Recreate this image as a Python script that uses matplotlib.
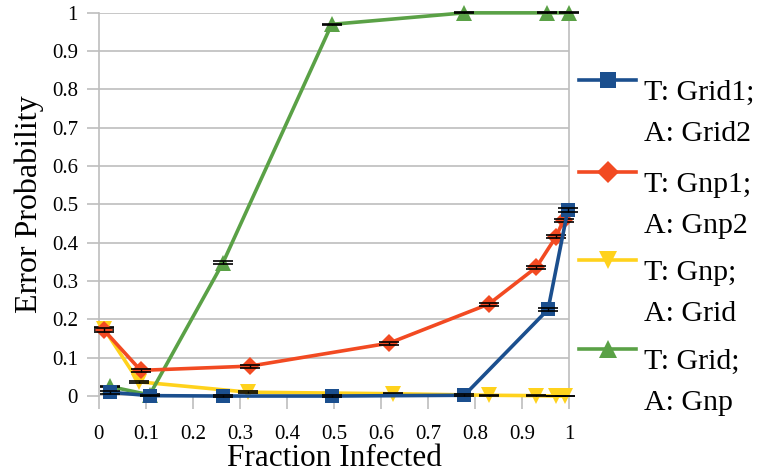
import matplotlib
matplotlib.use("Agg")
import matplotlib.pyplot as plt
from matplotlib.lines import Line2D
import numpy as np

# Series: T = training topology, A = attacked topology
x_grid1 = [0.023, 0.108, 0.264, 0.496, 0.777, 0.955, 0.997]
y_grid1 = [0.010, 0.001, 0.000, 0.000, 0.002, 0.226, 0.486]
e_grid1 = [0.004, 0.002, 0.002, 0.002, 0.002, 0.005, 0.005]

x_gnp1 = [0.011, 0.089, 0.321, 0.617, 0.829, 0.930, 0.972, 0.988]
y_gnp1 = [0.172, 0.067, 0.078, 0.138, 0.240, 0.336, 0.416, 0.459]
e_gnp1 = [0.005, 0.004, 0.004, 0.004, 0.004, 0.004, 0.004, 0.004]

x_gnp = [0.011, 0.085, 0.318, 0.626, 0.829, 0.930, 0.972, 0.990]
y_gnp = [0.176, 0.037, 0.010, 0.006, 0.002, 0.001, 0.000, 0.000]
e_gnp = [0.004, 0.003, 0.002, 0.001, 0.001, 0.001, 0.001, 0.001]

x_grid = [0.023, 0.108, 0.264, 0.495, 0.777, 0.953, 1.000]
y_grid = [0.025, 0.003, 0.348, 0.970, 1.000, 1.000, 1.000]
e_grid = [0.002, 0.002, 0.004, 0.002, 0.001, 0.001, 0.001]

label_top = ["T: Grid1;", "T: Gnp1;", "T: Gnp;", "T: Grid;"]
label_bottom = ["A: Grid2", "A: Gnp2", "A: Grid", "A: Gnp"]
colors = ["#1B4F8E", "#F24A22", "#FFD21C", "#5AA146"]
markers = ["s", "D", "v", "^"]
msizes = [9.5, 9, 11, 11]
zorders = [6, 5, 3, 4]

x_ticks = np.round(np.arange(0, 1.01, 0.1), 1)
y_ticks = np.round(np.arange(0, 1.01, 0.1), 1)

plt.rcParams["font.family"] = ["Liberation Serif", "DejaVu Serif"]

fig = plt.figure(figsize=(7.6, 4.76), dpi=100)
ax = fig.add_axes([0.130, 0.168, 0.619, 0.805])

series = [(x_grid1, y_grid1, e_grid1), (x_gnp1, y_gnp1, e_gnp1),
          (x_gnp, y_gnp, e_gnp), (x_grid, y_grid, e_grid)]

for (xs, ys, es), c, m, ms, z in zip(series, colors, markers, msizes, zorders):
    ax.plot(xs, ys, color=c, lw=2.6, marker=m, markersize=ms,
            markeredgewidth=0, zorder=z, clip_on=False)
    ax.errorbar(xs, ys, yerr=es, fmt="none", ecolor="black", elinewidth=1.0,
                capsize=7, capthick=1.2, zorder=z + 0.5, clip_on=False)

ax.set_xlim(0, 1)
ax.set_ylim(0, 1)
ax.set_xticks(x_ticks)
ax.set_xticklabels([f"{v:g}" for v in x_ticks])
ax.set_yticks(y_ticks)
ax.set_yticklabels([f"{v:g}" for v in y_ticks])

ax.grid(axis="y", color="#BEBEBE", lw=1.2, zorder=0)
ax.set_axisbelow(True)
for side in ["top", "bottom"]:
    ax.spines[side].set_visible(False)
for side in ["left", "right"]:
    ax.spines[side].set_color("#BEBEBE")
    ax.spines[side].set_linewidth(1.2)

ax.tick_params(axis="both", colors="#BEBEBE", width=1.2, length=9,
               labelcolor="black", labelsize=15)
ax.tick_params(axis="x", pad=12)
ax.tick_params(axis="y", pad=6)

ax.set_xlabel("Fraction Infected", fontsize=22.5, labelpad=0)
ax.set_ylabel("Error Probability", fontsize=23, labelpad=6)

# Legend drawn at the right of the plot area, handle beside each first line
handle_y = [0.832, 0.639, 0.454, 0.267]
line_gap = 41 / 476
for top, bot, c, m, ms, hy in zip(label_top, label_bottom, colors, markers, msizes, handle_y):
    fig.add_artist(Line2D([0.762, 0.837], [hy, hy], transform=fig.transFigure,
                          color=c, lw=2.6))
    fig.add_artist(Line2D([0.7995], [hy], transform=fig.transFigure,
                          color=c, marker=m, markersize=ms + 2, markeredgewidth=0))
    y1 = hy - 10 / 476
    fig.text(0.848, y1, top, fontsize=21.5, va="center_baseline", ha="left")
    fig.text(0.848, y1 - line_gap, bot, fontsize=21.5, va="center_baseline", ha="left")

fig.savefig("out.png", dpi=100)
